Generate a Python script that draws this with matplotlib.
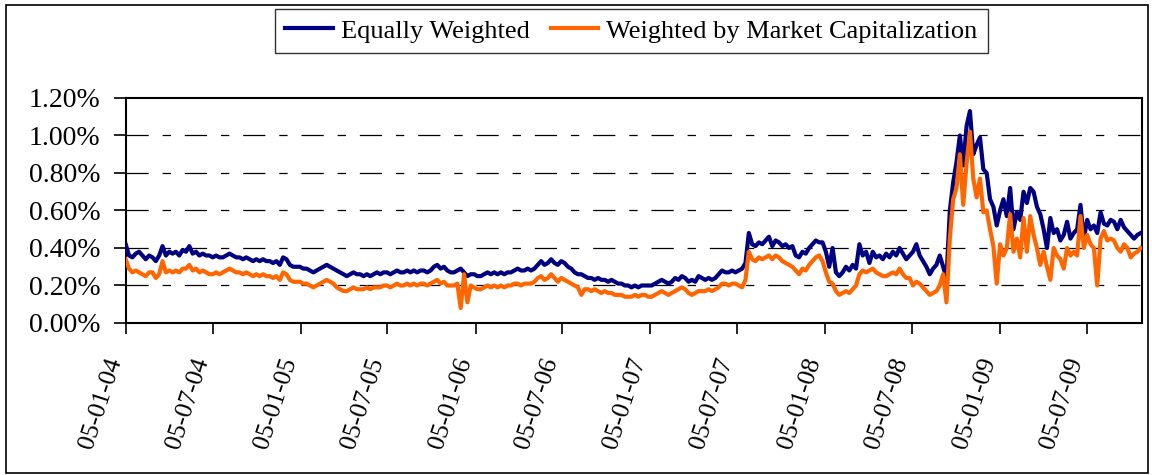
import matplotlib
matplotlib.use('Agg')
import matplotlib.pyplot as plt
import matplotlib.dates as mdates
import pandas as pd
from matplotlib.patches import Rectangle
from matplotlib.ticker import FuncFormatter

plt.rcParams['font.family'] = ['Liberation Serif', 'DejaVu Serif']
plt.rcParams['lines.scale_dashes'] = False

# weekly readings (in %), first week = 05-01-04
ew_2004 = [0.42, 0.36, 0.35, 0.37, 0.38, 0.36, 0.34, 0.36, 0.35, 0.33, 0.36, 0.41, 0.36,
           0.38, 0.37, 0.38, 0.36, 0.39, 0.38, 0.41, 0.37, 0.38, 0.36, 0.37, 0.36, 0.36,
           0.35, 0.36, 0.35, 0.35, 0.36, 0.37, 0.36, 0.35, 0.35, 0.34, 0.35, 0.34, 0.33,
           0.34, 0.33, 0.34, 0.33, 0.33, 0.32, 0.33, 0.31, 0.35, 0.34, 0.31, 0.30, 0.30]
ew_2005 = [0.30, 0.29, 0.29, 0.28, 0.27, 0.28, 0.29, 0.30, 0.31, 0.30, 0.29, 0.28, 0.27,
           0.26, 0.25, 0.26, 0.27, 0.26, 0.26, 0.25, 0.26, 0.25, 0.26, 0.27, 0.26, 0.27,
           0.27, 0.26, 0.27, 0.28, 0.27, 0.27, 0.28, 0.27, 0.28, 0.27, 0.28, 0.28, 0.27,
           0.28, 0.30, 0.31, 0.29, 0.30, 0.28, 0.27, 0.27, 0.28, 0.29, 0.27, 0.25, 0.26]
ew_2006 = [0.26, 0.25, 0.25, 0.26, 0.27, 0.26, 0.27, 0.26, 0.27, 0.26, 0.27, 0.27, 0.28,
           0.29, 0.28, 0.28, 0.29, 0.28, 0.29, 0.31, 0.33, 0.31, 0.32, 0.34, 0.32, 0.31,
           0.33, 0.32, 0.30, 0.29, 0.27, 0.26, 0.26, 0.25, 0.24, 0.24, 0.23, 0.24, 0.23,
           0.23, 0.22, 0.23, 0.22, 0.21, 0.21, 0.20, 0.20, 0.19, 0.20, 0.19, 0.20, 0.20]
ew_2007 = [0.20, 0.20, 0.21, 0.22, 0.23, 0.22, 0.21, 0.22, 0.24, 0.23, 0.25, 0.24, 0.22,
           0.23, 0.22, 0.25, 0.24, 0.23, 0.24, 0.23, 0.24, 0.26, 0.28, 0.27, 0.27, 0.28,
           0.27, 0.28, 0.29, 0.32, 0.48, 0.42, 0.41, 0.43, 0.42, 0.44, 0.46, 0.41, 0.44,
           0.43, 0.41, 0.42, 0.40, 0.41, 0.36, 0.35, 0.38, 0.37, 0.40, 0.42, 0.44, 0.43]
ew_2008 = [0.43, 0.38, 0.30, 0.40, 0.27, 0.25, 0.27, 0.30, 0.28, 0.31, 0.29, 0.42, 0.36,
           0.38, 0.32, 0.38, 0.35, 0.36, 0.34, 0.37, 0.35, 0.38, 0.36, 0.40, 0.37, 0.34,
           0.36, 0.38, 0.42, 0.36, 0.33, 0.30, 0.26, 0.29, 0.31, 0.36, 0.30, 0.24, 0.60,
           0.75, 0.86, 1.00, 0.84, 1.05, 1.13, 0.90, 0.95, 0.99, 0.82, 0.80, 0.66, 0.62]
ew_2009 = [0.52, 0.60, 0.66, 0.57, 0.72, 0.50, 0.59, 0.55, 0.70, 0.64, 0.72, 0.70, 0.62,
           0.58, 0.50, 0.40, 0.56, 0.48, 0.50, 0.44, 0.47, 0.54, 0.45, 0.48, 0.50, 0.63,
           0.45, 0.55, 0.50, 0.52, 0.48, 0.59, 0.53, 0.52, 0.55, 0.54, 0.50, 0.55, 0.51,
           0.49, 0.47, 0.45, 0.47, 0.48]

mc_2004 = [0.34, 0.29, 0.27, 0.28, 0.27, 0.26, 0.25, 0.27, 0.27, 0.24, 0.26, 0.33, 0.27,
           0.28, 0.27, 0.28, 0.27, 0.29, 0.29, 0.31, 0.28, 0.29, 0.27, 0.28, 0.27, 0.26,
           0.26, 0.27, 0.26, 0.27, 0.28, 0.29, 0.28, 0.27, 0.27, 0.26, 0.27, 0.26, 0.25,
           0.26, 0.25, 0.26, 0.25, 0.25, 0.24, 0.25, 0.23, 0.27, 0.26, 0.23, 0.22, 0.22]
mc_2005 = [0.22, 0.21, 0.21, 0.20, 0.19, 0.20, 0.21, 0.22, 0.23, 0.22, 0.21, 0.19, 0.18,
           0.17, 0.17, 0.18, 0.19, 0.18, 0.18, 0.18, 0.19, 0.18, 0.19, 0.19, 0.19, 0.20,
           0.20, 0.19, 0.20, 0.21, 0.20, 0.20, 0.21, 0.20, 0.21, 0.20, 0.21, 0.21, 0.20,
           0.21, 0.22, 0.23, 0.21, 0.22, 0.20, 0.20, 0.20, 0.21, 0.08, 0.26, 0.11, 0.20]
mc_2006 = [0.19, 0.18, 0.18, 0.19, 0.20, 0.19, 0.20, 0.19, 0.20, 0.19, 0.20, 0.20, 0.21,
           0.21, 0.20, 0.21, 0.21, 0.21, 0.22, 0.24, 0.25, 0.23, 0.24, 0.26, 0.24, 0.22,
           0.24, 0.23, 0.22, 0.21, 0.20, 0.19, 0.15, 0.18, 0.18, 0.17, 0.18, 0.17, 0.16,
           0.17, 0.16, 0.16, 0.15, 0.15, 0.15, 0.14, 0.14, 0.14, 0.15, 0.14, 0.15, 0.15]
mc_2007 = [0.14, 0.14, 0.15, 0.16, 0.17, 0.16, 0.15, 0.16, 0.17, 0.18, 0.19, 0.18, 0.16,
           0.15, 0.16, 0.17, 0.17, 0.17, 0.18, 0.17, 0.18, 0.19, 0.21, 0.21, 0.20, 0.21,
           0.21, 0.20, 0.19, 0.23, 0.38, 0.34, 0.33, 0.35, 0.34, 0.35, 0.36, 0.34, 0.36,
           0.35, 0.33, 0.32, 0.31, 0.30, 0.28, 0.26, 0.29, 0.28, 0.31, 0.33, 0.35, 0.36]
mc_2008 = [0.33, 0.27, 0.22, 0.21, 0.17, 0.15, 0.16, 0.17, 0.16, 0.18, 0.20, 0.26, 0.28,
           0.27, 0.28, 0.29, 0.27, 0.26, 0.25, 0.25, 0.26, 0.27, 0.26, 0.29, 0.26, 0.24,
           0.24, 0.20, 0.22, 0.21, 0.19, 0.17, 0.15, 0.16, 0.17, 0.20, 0.26, 0.11, 0.45,
           0.66, 0.72, 0.90, 0.63, 0.85, 1.02, 0.77, 0.67, 0.77, 0.59, 0.60, 0.50, 0.41]
mc_2009 = [0.21, 0.42, 0.36, 0.40, 0.58, 0.38, 0.45, 0.35, 0.56, 0.38, 0.57, 0.47, 0.40,
           0.31, 0.38, 0.30, 0.23, 0.40, 0.36, 0.34, 0.29, 0.40, 0.36, 0.38, 0.36, 0.57,
           0.40, 0.47, 0.42, 0.40, 0.20, 0.45, 0.49, 0.44, 0.45, 0.44, 0.40, 0.38, 0.42,
           0.40, 0.35, 0.37, 0.38, 0.40]

equally = ew_2004 + ew_2005 + ew_2006 + ew_2007 + ew_2008 + ew_2009
market_cap = mc_2004 + mc_2005 + mc_2006 + mc_2007 + mc_2008 + mc_2009
dates = pd.date_range('2004-01-05', periods=len(equally), freq='7D')

tick_dates = pd.to_datetime(['2004-01-05', '2004-07-05', '2005-01-05', '2005-07-05',
                             '2006-01-05', '2006-07-05', '2007-01-05', '2007-07-05',
                             '2008-01-05', '2008-07-05', '2009-01-05', '2009-07-05'])
y_ticks = [0.0, 0.2, 0.4, 0.6, 0.8, 1.0, 1.2]

fig = plt.figure(figsize=(11.52, 4.75), dpi=100)
ax = fig.add_axes([0.1091, 0.32, 0.882, 0.4737])

for y in y_ticks[1:-1]:
    ax.axhline(y, color='black', lw=0.9, dashes=(16, 10, 6, 10), zorder=1)

ax.plot(dates, equally, color='#000080', lw=3.0, zorder=3, label='Equally Weighted')
ax.plot(dates, market_cap, color='#FF6600', lw=3.0, zorder=4,
        label='Weighted by Market Capitalization')

ax.set_xlim(dates[0], dates[-1] + pd.Timedelta(days=2))
ax.set_ylim(0, 1.2)
ax.set_yticks(y_ticks)
ax.yaxis.set_major_formatter(FuncFormatter(lambda v, p: f'{v:.2f}%'))
ax.set_xticks(tick_dates)
ax.xaxis.set_major_formatter(mdates.DateFormatter('%d-%m-%y'))
ax.tick_params(axis='y', direction='out', length=9, width=1.2, pad=9, labelsize=20)
ax.tick_params(axis='x', direction='out', length=8, width=1.2, pad=15, labelsize=18.5)
for lab in ax.get_xticklabels():
    lab.set_rotation(72)
    lab.set_ha('right')
for s in ax.spines.values():
    s.set_linewidth(1.5)

fig.legend(loc='center', bbox_to_anchor=(0.548, 0.935), ncol=2, fontsize=19,
           frameon=True, fancybox=False, edgecolor='black', handlelength=1.8,
           handletextpad=0.3, columnspacing=0.8, borderpad=0.4)

fig.patches.append(Rectangle((0.0052, 0.004), 0.991, 0.985, transform=fig.transFigure,
                             fill=False, edgecolor='black', lw=1.2))

fig.savefig('out.png', dpi=100)
